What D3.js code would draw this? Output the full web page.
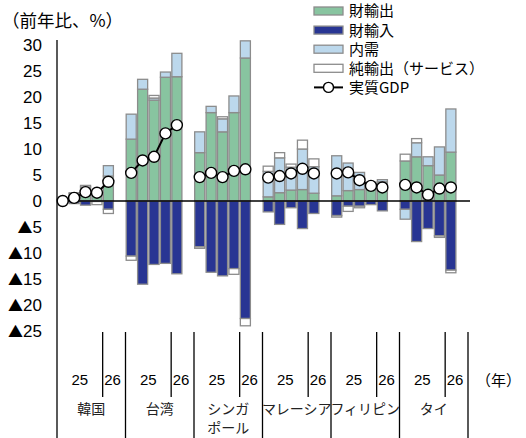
<!DOCTYPE html>
<meta charset="utf-8">
<style>

body {
  margin: 0;
  background: #fff;
  font-family: "Liberation Sans", Arial, "Noto Sans CJK JP", sans-serif;
}

.seg {
  stroke: #8c8c8c;
  stroke-width: 1.3px;
}

</style>
<body>
<script src="https://cdn.jsdelivr.net/npm/d3@7"></script>
<script>

// values, one row per country, one column per period
var countries = ["韓国", "台湾", "シンガポール", "マレーシア", "フィリピン", "タイ"],
    periods = ["25-1", "25-2", "25-3", "25-4", "26"],
    yTicks = [-25, -20, -15, -10, -5, 0, 5, 10, 15, 20, 25, 30];

var goodsExports = [
  [0.2, 0.3, 2.0, 1.3, 4.8],
  [11.9, 21.5, 19.4, 23.8, 23.9],
  [9.3, 17.0, 13.3, 17.0, 27.5],
  [0.8, 1.6, 2.1, 2.2, 1.5],
  [1.0, 2.0, 2.2, 2.4, 3.7],
  [7.7, 8.5, 6.8, 5.0, 9.4]
];
var goodsImports = [
  [-0.2, -0.5, -0.8, -0.1, -1.6],
  [-10.6, -16.0, -12.2, -12.0, -14.0],
  [-8.8, -13.7, -14.4, -13.0, -22.6],
  [-2.1, -4.5, -1.3, -5.3, -2.4],
  [-2.8, -1.0, -1.0, -0.7, -1.9],
  [-1.6, -7.8, -5.3, -6.7, -13.3]
];
var domesticDemand = [
  [0.1, 1.1, 0.7, 0.4, 2.0],
  [4.8, 1.9, 0.4, 1.0, 4.5],
  [4.0, 1.2, 2.5, 3.2, 3.3],
  [4.9, 6.7, 4.4, 7.8, 5.1],
  [7.7, 5.3, 3.3, 1.2, 0.4],
  [-1.9, 2.7, 1.7, 5.4, 8.3]
];
var servicesNet = [
  [-0.1, 0.2, 0.3, -0.6, -0.8],
  [-0.8, 0.0, 0.5, 0.0, 0.0],
  [-0.3, 0.0, 0.4, -1.1, -1.4],
  [1.0, 1.0, 0.6, 1.7, 1.5],
  [-0.3, -1.0, -0.3, 0.0, 0.0],
  [1.3, 0.8, 0.0, -0.3, -0.5]
];
var realGdp = [
  [0.0, 0.6, 1.7, 1.6, 3.7],
  [5.4, 7.8, 8.5, 13.0, 14.6],
  [4.6, 5.4, 4.6, 5.8, 6.1],
  [4.5, 4.8, 5.3, 6.2, 5.3],
  [5.3, 5.5, 4.0, 2.9, 2.6],
  [3.1, 2.6, 1.2, 2.4, 2.6]
];

var seriesKeys = ["exp", "imp", "dom", "svc"],
    seriesNames = ["財輸出", "財輸入", "内需", "純輸出（サービス）"],
    seriesColors = ["#88c4a0", "#283593", "#bcd8ec", "#ffffff"];

var width = 526, height = 438;

// flatten into rows for d3.stack
var rows = [];
countries.forEach(function(c, i) {
  periods.forEach(function(p, j) {
    rows.push({country: c, period: p, exp: goodsExports[i][j], imp: goodsImports[i][j],
      dom: domesticDemand[i][j], svc: servicesNet[i][j], gdp: realGdp[i][j]});
  });
});

var slots = periods.concat(["_"]); // 6th slot kept empty

var x0 = d3.scaleBand().domain(countries).range([57, 468]),
    x1 = d3.scaleBand().domain(slots).range([0, x0.bandwidth()]).paddingInner(0.12).paddingOuter(0.06),
    y = d3.scaleLinear().domain([-25, 30]).range([331, 45]);

var svg = d3.select("body").append("svg")
    .attr("width", width)
    .attr("height", height);

var stacked = d3.stack().keys(seriesKeys).offset(d3.stackOffsetDiverging)(rows);

svg.append("g").selectAll("g")
    .data(stacked)
  .enter().append("g")
    .attr("fill", function(d, i) { return seriesColors[i]; })
  .selectAll("rect")
    .data(function(d) { return d.filter(function(s) { return s[1] - s[0] !== 0; }); })
  .enter().append("rect")
    .attr("class", "seg")
    .attr("x", function(d) { return x0(d.data.country) + x1(d.data.period); })
    .attr("width", x1.bandwidth())
    .attr("y", function(d) { return y(d[1]); })
    .attr("height", function(d) { return y(d[0]) - y(d[1]); });

// zero line
svg.append("line")
    .attr("x1", 57).attr("x2", 470)
    .attr("y1", y(0)).attr("y2", y(0))
    .attr("stroke", "#000").attr("stroke-width", 1.3);

// y axis
svg.append("line")
    .attr("x1", 57).attr("x2", 57)
    .attr("y1", 40).attr("y2", 438)
    .attr("stroke", "#000").attr("stroke-width", 1.3);

var yLab = svg.append("g").selectAll("text")
    .data(yTicks)
  .enter().append("text")
    .attr("x", 42)
    .attr("y", function(d) { return y(d); })
    .attr("dy", "0.36em")
    .attr("text-anchor", "end")
    .attr("font-size", 17);
yLab.filter(function(d) { return d < 0; }).append("tspan")
    .attr("font-family", "Noto Sans CJK JP")
    .attr("font-size", 15)
    .text("▲");
yLab.append("tspan")
    .text(function(d) { return Math.abs(d); });

svg.append("text")
    .attr("x", 2).attr("y", 27)
    .attr("font-size", 17.5)
    .attr("font-family", "Noto Sans CJK JP")
    .text("（前年比、%）");

// GDP line + markers, one line per country
var line = d3.line()
    .x(function(d) { return x0(d.country) + x1(d.period) + x1.bandwidth() / 2; })
    .y(function(d) { return y(d.gdp); });

var gdpGroups = svg.append("g").selectAll("g")
    .data(countries)
  .enter().append("g");

gdpGroups.append("path")
    .attr("d", function(c) { return line(rows.filter(function(r) { return r.country === c; })); })
    .attr("fill", "none")
    .attr("stroke", "#000")
    .attr("stroke-width", 2);

gdpGroups.selectAll("circle")
    .data(function(c) { return rows.filter(function(r) { return r.country === c; }); })
  .enter().append("circle")
    .attr("cx", function(d) { return x0(d.country) + x1(d.period) + x1.bandwidth() / 2; })
    .attr("cy", function(d) { return y(d.gdp); })
    .attr("r", 5.5)
    .attr("fill", "#fff")
    .attr("stroke", "#000")
    .attr("stroke-width", 1.4);

// category axis: separators, year ticks, labels
var axisG = svg.append("g");
countries.forEach(function(c) {
  var gx = x0(c),
      divX = gx + x0.bandwidth() * 4 / 6;
  axisG.append("line")
      .attr("x1", gx + x0.bandwidth()).attr("x2", gx + x0.bandwidth())
      .attr("y1", 332).attr("y2", 438)
      .attr("stroke", "#000").attr("stroke-width", 1.3);
  axisG.append("line")
      .attr("x1", divX).attr("x2", divX)
      .attr("y1", 332).attr("y2", 397)
      .attr("stroke", "#000").attr("stroke-width", 1.3);
  axisG.append("text")
      .attr("x", (gx + divX) / 2).attr("y", 385)
      .attr("text-anchor", "middle")
      .attr("font-size", 15)
      .text("25");
  axisG.append("text")
      .attr("x", divX + 1.5).attr("y", 385)
      .attr("font-size", 15)
      .text("26");
  var name = c === "シンガポール" ? ["シンガ", "ポール"] : [c];
  name.forEach(function(n, k) {
    axisG.append("text")
        .attr("x", gx + x0.bandwidth() / 2).attr("y", 414 + k * 19)
        .attr("text-anchor", "middle")
        .attr("font-size", 14)
        .attr("font-family", "Noto Sans CJK JP")
        .attr("fill", "#222")
        .text(n);
  });
});

axisG.append("text")
    .attr("x", 476).attr("y", 386)
    .attr("font-size", 15)
    .attr("font-family", "Noto Sans CJK JP")
    .text("（年）");

// legend
var legend = svg.append("g").attr("transform", "translate(314,0)");
seriesNames.forEach(function(n, i) {
  var cy = 11 + i * 19.1;
  legend.append("rect")
      .attr("x", 0).attr("y", cy - 4)
      .attr("width", 29).attr("height", 8)
      .attr("fill", seriesColors[i])
      .attr("stroke", "#8c8c8c").attr("stroke-width", 1.3);
  legend.append("text")
      .attr("x", 35).attr("y", cy).attr("dy", "0.36em")
      .attr("font-size", 15)
      .attr("font-family", "Noto Sans CJK JP")
      .text(n);
});
var gy = 11 + 4 * 19.1;
legend.append("line")
    .attr("x1", 0).attr("x2", 29).attr("y1", gy).attr("y2", gy)
    .attr("stroke", "#000").attr("stroke-width", 2);
legend.append("circle")
    .attr("cx", 14.5).attr("cy", gy).attr("r", 5)
    .attr("fill", "#fff").attr("stroke", "#000").attr("stroke-width", 1.4);
legend.append("text")
    .attr("x", 35).attr("y", gy).attr("dy", "0.36em")
    .attr("font-size", 15)
    .attr("font-family", "Noto Sans CJK JP")
    .text("実質GDP");

</script>
